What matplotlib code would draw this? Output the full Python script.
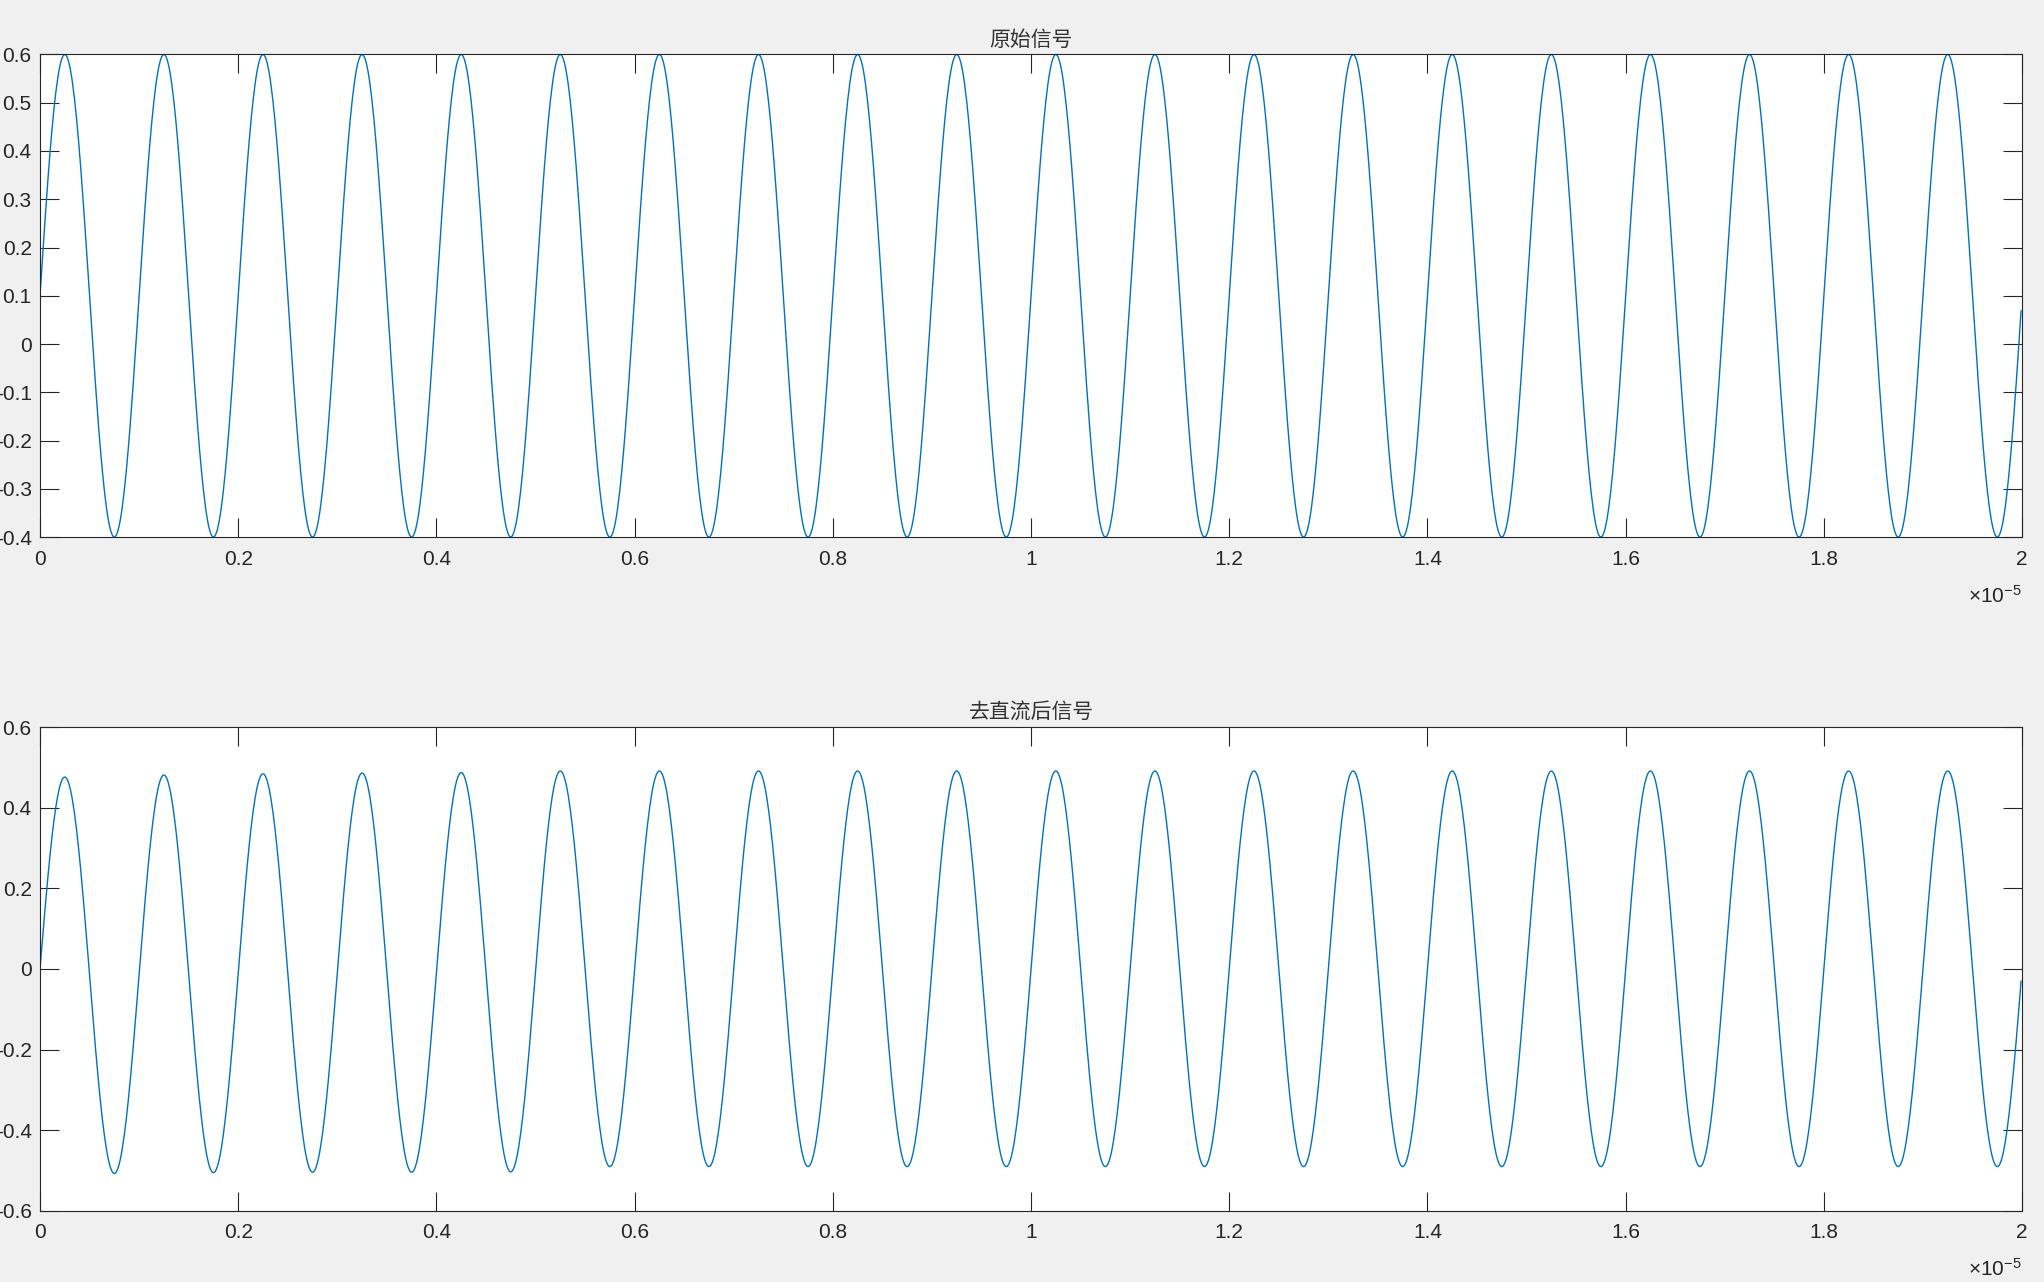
import numpy as np
import matplotlib
matplotlib.use("Agg")
from matplotlib import pyplot as plt
from matplotlib.ticker import FuncFormatter

# ---- values ----
period = 1e-6          # s, 20 cycles over the 2e-5 s window
fs = 100e6             # Hz, last sample just before 2e-5
n_samples = 2000

# original signal: extrema of every cycle and value at t = 0
raw_start = 0.1
raw_peaks = [0.6] * 20
raw_troughs = [-0.4] * 20

# after DC removal
dc_start = 0.0
dc_peaks = [0.476, 0.481, 0.484, 0.486, 0.487, 0.491, 0.491, 0.491, 0.491, 0.491,
            0.491, 0.491, 0.491, 0.491, 0.491, 0.491, 0.491, 0.491, 0.491, 0.491]
dc_troughs = [-0.507, -0.505, -0.504, -0.504, -0.503, -0.490, -0.490, -0.490, -0.490, -0.490,
              -0.490, -0.490, -0.490, -0.490, -0.490, -0.490, -0.490, -0.490, -0.490, -0.490]

titles = ["原始信号", "去直流后信号"]
xticks = [0, 0.2, 0.4, 0.6, 0.8, 1.0, 1.2, 1.4, 1.6, 1.8, 2.0]   # x 1e-5
yticks_top = [-0.4, -0.3, -0.2, -0.1, 0, 0.1, 0.2, 0.3, 0.4, 0.5, 0.6]
yticks_bot = [-0.6, -0.4, -0.2, 0, 0.2, 0.4, 0.6]


def waveform(t, start, peaks, troughs):
    # knots every half period, starting a quarter period before t=0
    vals = [2 * start - peaks[0]]
    for p, q in zip(peaks, troughs):
        vals += [p, q]
    vals.append(peaks[-1])
    vals = np.array(vals)
    pos = (t + period / 4) / (period / 2)
    i = np.floor(pos).astype(int)
    s = pos - i
    a, b = vals[i], vals[i + 1]
    return a + (b - a) * (1 - np.cos(np.pi * s)) / 2


t = np.arange(n_samples) / fs
y_raw = waveform(t, raw_start, raw_peaks, raw_troughs)
y_dc = waveform(t, dc_start, dc_peaks, dc_troughs)

plt.rcParams['font.family'] = ['Liberation Sans', 'DejaVu Sans']
plt.rcParams['mathtext.fontset'] = 'custom'
plt.rcParams['mathtext.rm'] = 'Liberation Sans'
plt.rcParams['mathtext.it'] = 'Liberation Sans'

fig = plt.figure(figsize=(20.44, 12.82), dpi=100, facecolor='#F0F0F0')
ax1 = fig.add_axes([0.01957, 0.5811, 0.9697, 0.3764])
ax2 = fig.add_axes([0.01957, 0.0554, 0.9697, 0.3775])

dark = '#262626'
fmt_x = FuncFormatter(lambda v, p: f"{round(v / 1e-5, 6) + 0.0:g}")
fmt_y = FuncFormatter(lambda v, p: f"{round(v, 6) + 0.0:g}")

for ax, y, title, yt in [(ax1, y_raw, titles[0], yticks_top), (ax2, y_dc, titles[1], yticks_bot)]:
    ax.plot(t, y, color='#0072BD', lw=1.0)
    ax.set_xlim(0, 2e-5)
    ax.set_ylim(yt[0], yt[-1])
    ax.set_xticks([v * 1e-5 for v in xticks])
    ax.set_yticks(yt)
    ax.xaxis.set_major_formatter(fmt_x)
    ax.yaxis.set_major_formatter(fmt_y)
    ax.tick_params(direction='in', length=14, width=0.8, color=dark, labelcolor=dark,
                   labelsize=15, top=True, right=True)
    ax.tick_params(axis='x', pad=9)
    ax.tick_params(axis='y', pad=6)
    for sp in ax.spines.values():
        sp.set_color(dark)
        sp.set_linewidth(0.8)
    ax.set_title(title, fontsize=15, color='#333333', pad=6,
                 family=['Noto Sans CJK SC', 'DejaVu Sans'])
    ax.annotate(r'$\times\mathregular{10^{-5}}$', xy=(1, 0), xycoords='axes fraction',
                xytext=(0, -42), textcoords='offset points', ha='right', va='center',
                fontsize=15, color=dark)

fig.savefig('out.png', dpi=100, facecolor='#F0F0F0')
